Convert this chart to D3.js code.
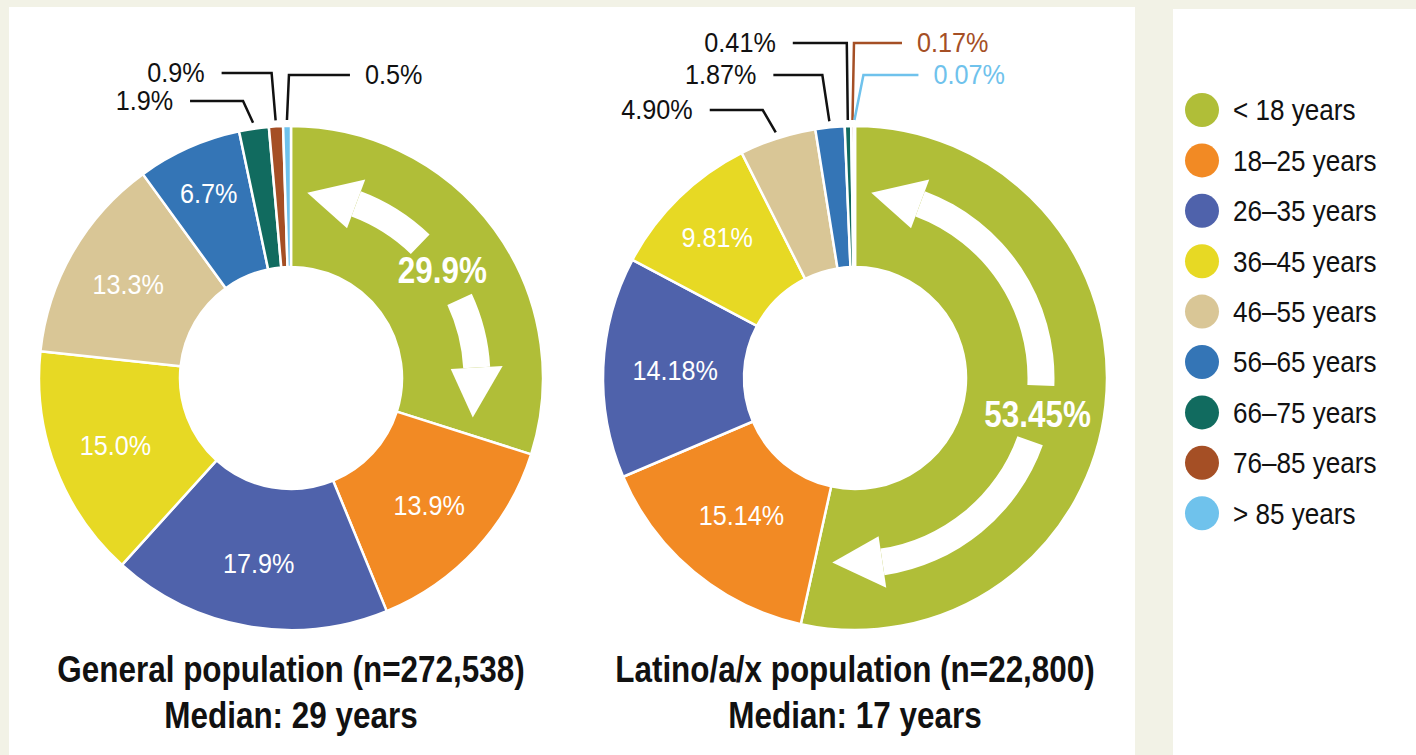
<!doctype html>
<html>
<head>
<meta charset="utf-8">
<script src="https://d3js.org/d3.v7.min.js"></script>
<style>
  body { margin: 0; background: #f2f2e6; }
  svg { display: block; }
  text { font-family: "Liberation Sans", Arial, Helvetica, sans-serif; }
</style>
</head>
<body>
<svg id="chart" width="1416" height="755"></svg>
<script>
// age groups, clockwise from 12 o'clock
const categories = ["< 18 years", "18\u201325 years", "26\u201335 years", "36\u201345 years", "46\u201355 years",
                    "56\u201365 years", "66\u201375 years", "76\u201385 years", "> 85 years"];
const colors = ["#b0be38", "#f28a24", "#4f62ab", "#e7d924", "#d9c696", "#3475b6", "#116b5f", "#a54f25", "#6fc2ec"];

const generalValues = [29.9, 13.9, 17.9, 15.0, 13.3, 6.7, 1.9, 0.9, 0.5];
const latinoValues  = [53.45, 15.14, 14.18, 9.81, 4.90, 1.87, 0.41, 0.17, 0.07];

const generalTitle = ["General population (n=272,538)", "Median: 29 years"];
const latinoTitle  = ["Latino/a/x population (n=22,800)", "Median: 17 years"];

// layout for each donut (angles in degrees, clockwise from top)
const charts = [
  { cx: 291, cy: 378, values: generalValues, fmt: d3.format(".1f"), title: generalTitle,
    bigAngle: 54.5, gap: 10.5,
    labelR: {5: 203},
    outside: {
      6: { y: -277, dx: -10, len: 53, side: "left",  color: "#111" },
      7: { y: -305, dx: -4,  len: 50, side: "left",  color: "#111" },
      8: { y: -303, dx: 2,   len: 61, side: "right", color: "#111" }
    } },
  { cx: 855, cy: 378, values: latinoValues, fmt: d3.format(".2f"), title: latinoTitle,
    bigAngle: 101, gap: 8.7,
    labelR: {1: 178, 2: 180, 3: 197},
    outside: {
      4: { y: -268, dx: -13, len: 53, side: "left",  color: "#111" },
      5: { y: -303, dx: -7,  len: 49, side: "left",  color: "#111" },
      6: { y: -335, dx: -1,  len: 54, side: "left",  color: "#111" },
      7: { y: -335, dx: 1.5, len: 48, side: "right", color: "#a54f25" },
      8: { y: -303, dx: 9,   len: 55, side: "right", color: "#6fc2ec" }
    } }
];

const outerR = 252, innerR = 111;
const svg = d3.select("#chart");

// panels
svg.append("rect").attr("x", 9).attr("y", 7).attr("width", 1126).attr("height", 760).attr("fill", "#fff");
svg.append("rect").attr("x", 1173).attr("y", 9).attr("width", 250).attr("height", 760).attr("fill", "#fff");

const color = d3.scaleOrdinal().domain(categories).range(colors);
const pie = d3.pie().sort(null).value(d => d.value);
const arc = d3.arc().innerRadius(innerR).outerRadius(outerR);
const rad = deg => deg * Math.PI / 180;
const polar = (r, deg) => [r * Math.sin(rad(deg)), -r * Math.cos(rad(deg))];

// condensed text: squeeze a normal sans horizontally
function ctext(parent, x, y, str, size, opt = {}) {
  const bold = !!opt.bold;
  const sx = bold ? 0.85 : 0.9;
  return parent.append("g").attr("transform", `translate(${x},${y}) scale(${sx},1)`)
    .append("text")
    .attr("dy", opt.dy ?? "0.36em")
    .attr("text-anchor", opt.anchor || "middle")
    .attr("fill", opt.fill || "#111")
    .attr("font-size", size)
    .attr("font-weight", bold ? "bold" : null)
    .text(str);
}

function curvedArrow(g, r, w, hw, tail, tip, headLen) {
  const dir = tip > tail ? 1 : -1;
  const base = tip - dir * headLen;
  g.append("path")
    .attr("d", d3.arc().innerRadius(r - w / 2).outerRadius(r + w / 2)
      .startAngle(rad(Math.min(tail, base))).endAngle(rad(Math.max(tail, base)))())
    .attr("fill", "#fff");
  g.append("path")
    .attr("d", d3.line()([polar(r - hw / 2, base), polar(r + hw / 2, base), polar(r, tip)]) + "Z")
    .attr("fill", "#fff");
}

charts.forEach(c => {
  const data = categories.map((k, i) => ({ key: k, value: c.values[i], i }));
  const arcs = pie(data);
  const g = svg.append("g").attr("transform", `translate(${c.cx},${c.cy})`);

  g.selectAll("path.slice").data(arcs).join("path")
    .attr("class", "slice")
    .attr("d", arc)
    .attr("fill", d => color(d.data.key))
    .attr("stroke", "#fff").attr("stroke-width", 2.5).attr("stroke-linejoin", "round");

  // labels inside the mid-size slices
  arcs.forEach((a, i) => {
    if (i === 0 || c.outside[i]) return;
    const mid = (a.startAngle + a.endAngle) / 2 * 180 / Math.PI;
    const [x, y] = polar(c.labelR[i] || 188, mid);
    ctext(g, x, y, c.fmt(a.data.value) + "%", 28, { fill: "#fff" });
  });

  // big share with curved arrows
  const first = arcs[0];
  const endDeg = first.endAngle * 180 / Math.PI;
  const [bx, by] = polar(186, c.bigAngle);
  ctext(g, bx, by, c.fmt(first.data.value) + "%", 37, { fill: "#fff", bold: true });
  curvedArrow(g, 186, 27, 52, c.bigAngle - c.gap, 5, 15.5);
  curvedArrow(g, 186, 27, 52, c.bigAngle + c.gap, endDeg - 5.4, 15.5);

  // leader-line labels for the small slices
  Object.keys(c.outside).forEach(k => {
    const a = arcs[+k], o = c.outside[k];
    const mid = (a.startAngle + a.endAngle) / 2 * 180 / Math.PI;
    const [ax, ay] = polar(outerR + 6, mid);
    const ex = ax + o.dx;
    const sx = o.side === "left" ? ex - o.len : ex + o.len;
    g.append("path")
      .attr("d", d3.line()([[ax, ay], [ex, o.y], [sx, o.y]]))
      .attr("fill", "none").attr("stroke", o.color).attr("stroke-width", 2.5);
    ctext(g, o.side === "left" ? sx - 17 : sx + 15, o.y - 1, c.fmt(a.data.value) + "%", 28,
      { anchor: o.side === "left" ? "end" : "start", fill: o.color });
  });

  // title
  c.title.forEach((t, i) => {
    ctext(svg, c.cx, 682 + i * 46, t, 37, { bold: true, dy: 0 });
  });
});

// legend
const legend = svg.append("g").attr("transform", "translate(1202,110)");
const rows = legend.selectAll("g.row").data(categories).join("g")
  .attr("class", "row")
  .attr("transform", (d, i) => `translate(0,${i * 50.4})`);
rows.append("circle").attr("r", 17).attr("fill", d => color(d));
rows.each(function (d) { ctext(d3.select(this), 31, 0, d, 29, { anchor: "start" }); });
</script>
</body>
</html>
